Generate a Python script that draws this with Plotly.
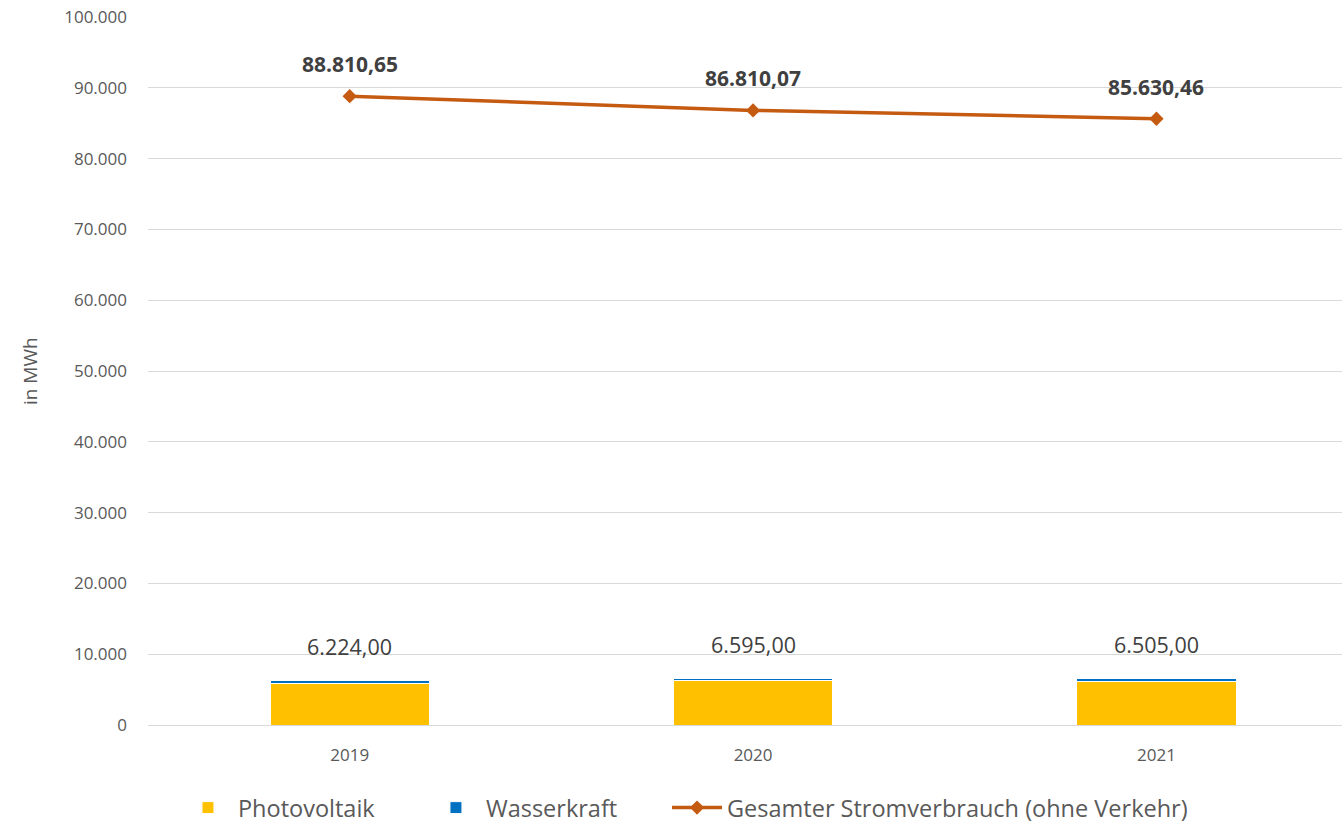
import plotly.graph_objects as go

years = ["2019", "2020", "2021"]
photovoltaik = [5900, 6250, 6170]
wasserkraft = [324, 345, 335]
totals = [6224.00, 6595.00, 6505.00]
totals_label = ["6.224,00", "6.595,00", "6.505,00"]
verbrauch = [88810.65, 86810.07, 85630.46]
verbrauch_label = ["88.810,65", "86.810,07", "85.630,46"]
yticks = [0, 10000, 20000, 30000, 40000, 50000, 60000, 70000, 80000, 90000, 100000]
ytick_text = ["0", "10.000", "20.000", "30.000", "40.000", "50.000", "60.000", "70.000", "80.000", "90.000", "100.000"]

font = "Open Sans"
txt = "#595959"

fig = go.Figure()
fig.add_trace(go.Bar(
    x=years, y=photovoltaik, name="Photovoltaik",
    marker=dict(color="#FFC000", line=dict(color="white", width=1)),
    width=0.395, legend="legend",
))
fig.add_trace(go.Bar(
    x=years, y=wasserkraft, name="Wasserkraft",
    marker=dict(color="#0070C0", line=dict(color="white", width=1)),
    width=0.395, legend="legend2",
))
fig.add_trace(go.Scatter(
    x=years, y=verbrauch, name="Gesamter Stromverbrauch (ohne Verkehr)",
    mode="lines+markers",
    line=dict(color="#C55A11", width=3.5),
    marker=dict(symbol="diamond", size=11, color="#C55A11"),
    legend="legend3",
))

annotations = []
for i, (y, t) in enumerate(zip(totals, totals_label)):
    annotations.append(dict(x=i, y=y, xref="x", yref="y", text=t, showarrow=False, yshift=34,
                            font=dict(size=21.5, color="#404040", family=font)))
for i, (y, t) in enumerate(zip(verbrauch, verbrauch_label)):
    annotations.append(dict(x=i, y=y, xref="x", yref="y", text="<b>" + t + "</b>",
                            showarrow=False, yshift=32,
                            font=dict(size=21, color="#404040", family=font)))
annotations.append(dict(xref="paper", yref="paper", x=-0.0988, y=0.5, text="in MWh",
                        textangle=-90, showarrow=False, xanchor="center", yanchor="middle",
                        font=dict(size=19, color=txt, family=font)))

leg_common = dict(orientation="h", xanchor="left", y=-0.117, yanchor="middle",
                  font=dict(size=23.5, color=txt, family=font), itemwidth=50,
                  bgcolor="rgba(0,0,0,0)")

fig.update_layout(
    barmode="stack",
    width=1342, height=825,
    margin=dict(l=148, r=0, t=17, b=100, autoexpand=False),
    plot_bgcolor="white", paper_bgcolor="white",
    font=dict(family=font, color=txt, size=17),
    showlegend=True,
    annotations=annotations,
    legend=dict(x=0.0251, **leg_common),
    legend2=dict(x=0.2328, **leg_common),
    legend3=dict(x=0.4347, **leg_common),
    xaxis=dict(type="category", range=[-0.5, 2.46], showgrid=False, showline=True,
               linecolor="#d9d9d9", linewidth=1, ticks="", automargin=False,
               ticklabelstandoff=15, tickfont=dict(size=17, color=txt)),
    yaxis=dict(range=[0, 100000], tickvals=yticks, ticktext=ytick_text,
               gridcolor="#d9d9d9", gridwidth=1, zeroline=False, automargin=False,
               ticklabeloverflow="allow",
               ticks="", ticklabelstandoff=20, tickfont=dict(size=17, color=txt)),
)

fig.write_html("out.html",
               config={"displayModeBar": False},
               post_script="document.body.style.margin='0';document.body.style.overflow='hidden';")
